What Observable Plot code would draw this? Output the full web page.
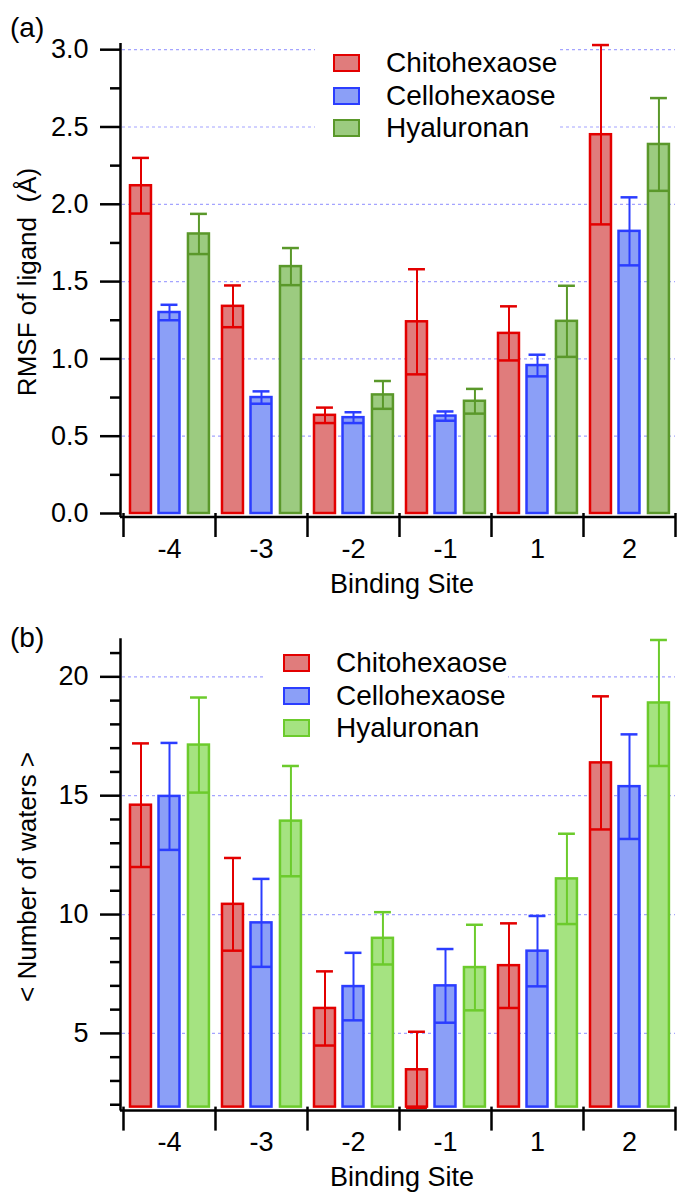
<!DOCTYPE html>
<html><head><meta charset="utf-8">
<script src="https://cdn.jsdelivr.net/npm/d3@7"></script>
<script src="https://cdn.jsdelivr.net/npm/@observablehq/plot@0.6"></script>
<style>
body{margin:0;background:#fff;font-family:"Liberation Sans",Arial,Helvetica,sans-serif;color:#000;}
.panel{position:relative;width:677px;height:598px;overflow:visible;}
.tag{position:absolute;left:10px;font-size:28px;line-height:1;}
.legend{position:absolute;background:#fff;box-sizing:border-box;}
.row{display:flex;align-items:center;height:32.4px;}
.sw{box-sizing:border-box;width:27px;height:18px;border:2.5px solid;margin-left:18px;}
.lt{margin-left:26px;font-size:28px;line-height:1;white-space:nowrap;}
</style></head><body>
<div id="pa" class="panel"></div>
<div id="pb" class="panel"></div>
<script>
// ---------- data ----------
const sites = ["-4", "-3", "-2", "-1", "1", "2"];
const series = ["Chitohexaose", "Cellohexaose", "Hyaluronan"];

// (a) RMSF of ligand (Å)
const rmsfChito    = [2.12, 1.34, 0.635, 1.24, 1.165, 2.45];
const rmsfChitoErr = [0.18, 0.135, 0.05, 0.34, 0.175, 0.58];
const rmsfCello    = [1.30, 0.75, 0.62, 0.63, 0.957, 1.825];
const rmsfCelloErr = [0.05, 0.04, 0.035, 0.03, 0.07, 0.22];
const rmsfHyal     = [1.808, 1.597, 0.767, 0.726, 1.243, 2.387];
const rmsfHyalErr  = [0.13, 0.12, 0.09, 0.08, 0.23, 0.30];

// (b) < Number of waters >
const waterChito    = [14.6, 10.43, 6.05, 3.47, 7.85, 16.38];
const waterChitoErr = [2.6, 1.95, 1.56, 1.6, 1.78, 2.8];
const waterCello    = [14.97, 9.65, 6.97, 7.0, 8.46, 15.38];
const waterCelloErr = [2.25, 1.85, 1.42, 1.55, 1.48, 2.2];
const waterHyal     = [17.13, 13.93, 9.0, 7.77, 11.5, 18.9];
const waterHyalErr  = [2.0, 2.32, 1.1, 1.8, 1.9, 2.65];

// tick values
const rmsfMajor = [0, 0.5, 1.0, 1.5, 2.0, 2.5, 3.0];
const rmsfMinor = [0.25, 0.75, 1.25, 1.75, 2.25, 2.75];
const waterMajor = [5, 10, 15, 20];
const waterMinor = [2, 3, 4, 6, 7, 8, 9, 11, 12, 13, 14, 16, 17, 18, 19, 21];

// ---------- styling ----------
const strokesA = ["#e30000", "#2b3dff", "#5a982a"];
const fillsA   = ["#e07c7c", "#8b9ff7", "#9ccb80"];
const strokesB = ["#e30000", "#2b3dff", "#6ccb2c"];
const fillsB   = ["#e07c7c", "#8b9ff7", "#a5e381"];
const gridColor = "#a4a4ff";
const offsets = [-0.31, 0, 0.32];   // dodge of the three series inside a site
const hw = 0.114;                    // half bar width (site units)
const capHW = 0.092;                 // half width of upper error cap
const font = "'Liberation Sans', Arial, Helvetica, sans-serif";

function rowsOf(vals, errs) {
  const out = [];
  sites.forEach((s, i) => vals.forEach((v, j) => out.push({i, j, v: v[i], e: errs[j][i]})));
  return out;
}

function panel({el, rows, yDomain, major, minor, fmt, title, marginTop, marginBottom, strokes, fills, titleDy, tag, tagTop, legendLeft, legendTop}) {
  const yMin = yDomain[0];
  const xMin = -0.5 - 3 / 92;
  const cx = d => d.i + offsets[d.j];
  const plot = Plot.plot({
    width: 677, height: 598,
    marginLeft: 120, marginRight: 2, marginTop, marginBottom,
    style: {fontFamily: font, fontSize: "27px", background: "transparent", overflow: "visible", color: "#000"},
    x: {type: "linear", domain: [xMin, sites.length - 0.5], axis: null},
    y: {domain: yDomain, axis: null},
    color: {type: "identity"},
    marks: [
      Plot.gridY(major.filter(t => t > yMin), {stroke: gridColor, strokeOpacity: 1, strokeWidth: 1.2, strokeDasharray: "3,3", insetLeft: 2}),
      Plot.rect(rows, {x1: d => cx(d) - hw, x2: d => cx(d) + hw, y1: yMin, y2: "v",
        fill: d => fills[d.j], stroke: d => strokes[d.j], strokeWidth: 2.5}),
      Plot.ruleX(rows, {x: cx, y1: d => d.v - d.e, y2: d => d.v + d.e, stroke: d => strokes[d.j], strokeWidth: 2}),
      Plot.ruleY(rows, {y: d => d.v + d.e, x1: d => cx(d) - capHW, x2: d => cx(d) + capHW, stroke: d => strokes[d.j], strokeWidth: 2.5}),
      Plot.ruleY(rows, {y: d => d.v - d.e, x1: d => cx(d) - hw, x2: d => cx(d) + hw, stroke: d => strokes[d.j], strokeWidth: 2.5}),
      // axis lines
      Plot.ruleX([xMin], {stroke: "#000", strokeWidth: 2.5, insetBottom: -4}),
      Plot.ruleY([yMin], {stroke: "#000", strokeWidth: 2.5, dy: 3.5}),
      // y ticks and labels
      Plot.tickY(major, {y: d => d, frameAnchor: "left"}),
      Plot.axisY(major, {tickSize: 20, tickFormat: () => "", strokeWidth: 2.5, label: null}),
      Plot.axisY(minor, {tickSize: 10, tickFormat: () => "", strokeWidth: 2.5, label: null}),
      Plot.text(major, {y: d => d, text: fmt, frameAnchor: "left", textAnchor: "end", dx: -32, fontSize: 27}),
      // x ticks at site boundaries, labels at site centres
      Plot.axisX(d3.range(sites.length + 1).map(k => k - 0.5), {tickSize: 24, tickFormat: () => "", strokeWidth: 2.5, label: null}),
      Plot.text(d3.range(sites.length), {x: k => k, text: k => sites[k], frameAnchor: "bottom", lineAnchor: "top", dy: 25, fontSize: 27}),
      Plot.text(["Binding Site"], {frameAnchor: "bottom", lineAnchor: "top", dy: 60, dx: 4, fontSize: 27}),
      Plot.text([title], {frameAnchor: "left", textAnchor: "middle", rotate: -90, dx: -93, dy: titleDy, fontSize: 26})
    ].filter((m, k) => k !== 7)
  });
  el.appendChild(plot);
  const t = document.createElement("div");
  t.className = "tag"; t.textContent = tag; t.style.top = tagTop + "px";
  el.appendChild(t);
  const lg = document.createElement("div");
  lg.className = "legend";
  lg.style.left = legendLeft + "px"; lg.style.top = legendTop + "px";
  lg.style.width = "243px"; lg.style.padding = "7px 0 8px 0";
  series.forEach((s, j) => {
    const r = document.createElement("div"); r.className = "row";
    const sw = document.createElement("div"); sw.className = "sw";
    sw.style.background = fills[j]; sw.style.borderColor = strokes[j];
    const tx = document.createElement("div"); tx.className = "lt"; tx.textContent = s;
    r.appendChild(sw); r.appendChild(tx); lg.appendChild(r);
  });
  el.appendChild(lg);
}

panel({
  el: document.getElementById("pa"),
  rows: rowsOf([rmsfChito, rmsfCello, rmsfHyal], [rmsfChitoErr, rmsfCelloErr, rmsfHyalErr]),
  yDomain: [0, 3.04], major: rmsfMajor, minor: rmsfMinor, fmt: d3.format(".1f"),
  title: "RMSF of ligand  (Å)", marginTop: 43, marginBottom: 85,
  strokes: strokesA, fills: fillsA, titleDy: 3.5, tag: "(a)", tagTop: 14,
  legendLeft: 315, legendTop: 40
});
panel({
  el: document.getElementById("pb"),
  rows: rowsOf([waterChito, waterCello, waterHyal], [waterChitoErr, waterCelloErr, waterHyalErr]),
  yDomain: [1.9, 21.6], major: waterMajor, minor: waterMinor, fmt: d3.format("d"),
  title: "< Number of waters >", marginTop: 40.3, marginBottom: 89.4,
  strokes: strokesB, fills: fillsB, titleDy: 4, tag: "(b)", tagTop: 26,
  legendLeft: 265, legendTop: 42
});
</script>
</body></html>
